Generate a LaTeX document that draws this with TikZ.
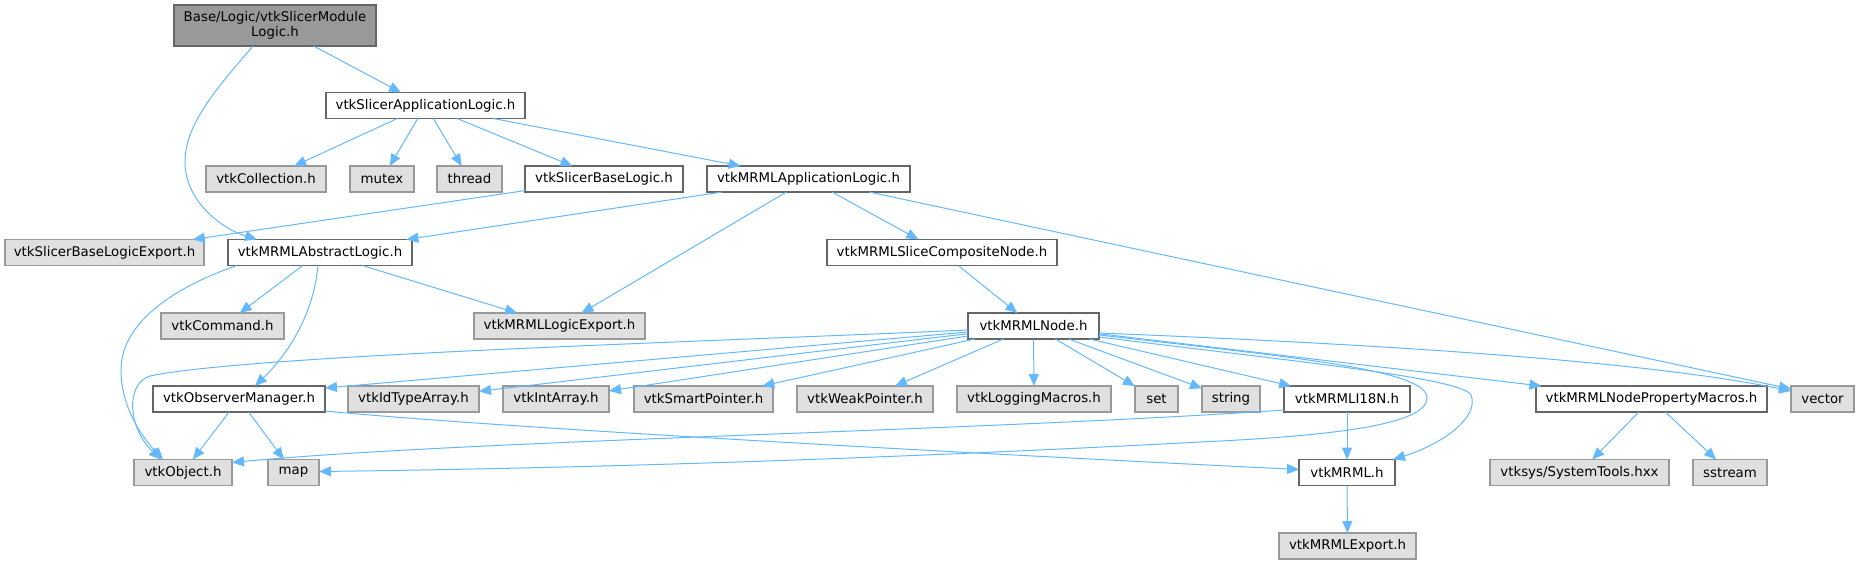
\documentclass[tikz,border=0pt]{standalone}
\usepackage{fontspec}
\setmainfont{DejaVu Sans}
\usetikzlibrary{arrows.meta,calc}
\definecolor{edgeblue}{HTML}{63B8FF}
\definecolor{wborder}{HTML}{666666}
\definecolor{gfill}{HTML}{E0E0E0}
\definecolor{gborder}{HTML}{999999}
\definecolor{rootfill}{HTML}{999999}
\begin{document}
\begin{tikzpicture}[x=0.75pt,y=-0.75pt,
  every node/.style={font=\fontsize{10pt}{11.25pt}\selectfont, inner sep=0pt, outer sep=0pt},
  wbox/.style={draw=wborder, fill=white, line width=0.9pt, rectangle},
  gbox/.style={draw=gborder, fill=gfill, line width=0.9pt, rectangle},
  rootbox/.style={draw=wborder, fill=rootfill, line width=0.9pt, rectangle, align=center},
  sz/.style 2 args={minimum width=#1*0.75pt, minimum height=#2*0.75pt},
  dep/.style={draw=edgeblue, line width=0.75pt, -{Triangle[length=9pt,width=7.5pt]}}
]
\useasboundingbox (0,0) rectangle (1859,564);

% nodes
\node[rootbox, sz={202}{41}] (root) at (275,25.5) {Base/Logic/vtkSlicerModule\\Logic.h};
\node[wbox, sz={199}{26}] (sal) at (425.5,105.5) {vtkSlicerApplicationLogic.h};
\node[gbox, sz={120}{26}] (coll) at (266,179) {vtkCollection.h};
\node[gbox, sz={64}{26}] (mutex) at (382,179) {mutex};
\node[gbox, sz={65}{26}] (thread) at (469.5,179) {thread};
\node[wbox, sz={158}{26}] (sbl) at (604,179) {vtkSlicerBaseLogic.h};
\node[wbox, sz={203}{26}] (mappl) at (808.5,179) {vtkMRMLApplicationLogic.h};
\node[gbox, sz={199}{26}] (sble) at (104.5,252.5) {vtkSlicerBaseLogicExport.h};
\node[wbox, sz={184}{26}] (absl) at (320,252.5) {vtkMRMLAbstractLogic.h};
\node[wbox, sz={230}{26}] (slicec) at (942,252.5) {vtkMRMLSliceCompositeNode.h};
\node[gbox, sz={123}{26}] (cmd) at (222.5,326) {vtkCommand.h};
\node[gbox, sz={171}{26}] (logexp) at (559.5,326) {vtkMRMLLogicExport.h};
\node[wbox, sz={131}{26}] (mnode) at (1033.5,326) {vtkMRMLNode.h};
\node[wbox, sz={172}{26}] (obs) at (239,399) {vtkObserverManager.h};
\node[gbox, sz={131}{26}] (idta) at (413.5,399) {vtkIdTypeArray.h};
\node[gbox, sz={106}{26}] (inta) at (556,399) {vtkIntArray.h};
\node[gbox, sz={139}{26}] (smart) at (703.5,399) {vtkSmartPointer.h};
\node[gbox, sz={136}{26}] (weak) at (865,399) {vtkWeakPointer.h};
\node[gbox, sz={154}{26}] (logm) at (1034,399) {vtkLoggingMacros.h};
\node[gbox, sz={43}{26}] (set) at (1156.5,399) {set};
\node[gbox, sz={58}{26}] (string) at (1231,399) {string};
\node[wbox, sz={126}{26}] (i18n) at (1347,399) {vtkMRMLI18N.h};
\node[wbox, sz={231}{26}] (npm) at (1651.5,399) {vtkMRMLNodePropertyMacros.h};
\node[gbox, sz={63}{26}] (vector) at (1822.5,399) {vector};
\node[gbox, sz={98}{26}] (obj) at (183,472.5) {vtkObject.h};
\node[gbox, sz={51}{26}] (map) at (293.5,472.5) {map};
\node[wbox, sz={96}{26}] (mrml) at (1347,472.5) {vtkMRML.h};
\node[gbox, sz={179}{26}] (sys) at (1579.5,472.5) {vtksys/SystemTools.hxx};
\node[gbox, sz={74}{26}] (sstream) at (1730,472.5) {sstream};
\node[gbox, sz={137}{26}] (mexp) at (1347.5,546) {vtkMRMLExport.h};

% edges
\draw[dep] (root) -- (sal);
\draw[dep] ($(root.south)+(-22,0)$) .. controls (215,90) and (185,125) .. (185,162)
   .. controls (185,200) and (220,228) .. ($(absl.north)+(-63,0)$);
\draw[dep] (sal) -- (coll);
\draw[dep] (sal) -- (mutex);
\draw[dep] (sal) -- (thread);
\draw[dep] (sal) -- (sbl);
\draw[dep] (sal) -- (mappl);
\draw[dep] (sbl) -- (sble);
\draw[dep] (mappl) -- (absl);
\draw[dep] (mappl) -- (logexp);
\draw[dep] (mappl) -- (slicec);
\draw[dep] ($(mappl.south east)+(-41,0)$) -- ($(vector.west)+(0,-10)$);
\draw[dep] (absl) -- (cmd);
\draw[dep] (absl) -- (logexp);
\draw[dep] ($(absl.south west)+(9,0)$) .. controls (180,285) and (121,320) .. (121,370)
   .. controls (121,410) and (145,440) .. ($(obj.north)+(-20,0)$);
\draw[dep] ($(absl.south)+(-2,0)$) .. controls (314,310) and (292,350) .. ($(obs.north)+(16,0)$);
\draw[dep] (slicec) -- (mnode);
\draw[dep] ($(mnode.west)+(0,4)$) .. controls (700,342) and (250,355) .. (150,376)
   .. controls (125,384) and (128,428) .. ($(obj.north)+(-22,0)$);
\draw[dep] ($(mnode.west)+(0,6)$) -- ($(obs.east)+(0,-11)$);
\draw[dep] (mnode) -- (idta);
\draw[dep] (mnode) -- (inta);
\draw[dep] (mnode) -- (smart);
\draw[dep] (mnode) -- (weak);
\draw[dep] (mnode) -- (logm);
\draw[dep] (mnode) -- (set);
\draw[dep] (mnode) -- (string);
\draw[dep] (mnode) -- (i18n);
\draw[dep] (mnode) -- (npm);
\draw[dep] ($(mnode.east)+(0,7)$) .. controls (1400,345) and (1650,362) .. ($(vector.west)+(0,-8)$);
\draw[dep] ($(mnode.east)+(0,9)$) .. controls (1300,358) and (1427,370) .. (1427,398)
   .. controls (1427,425) and (1330,436) .. (1200,442)
   .. controls (900,458) and (600,468) .. ($(map.east)+(0,-1)$);
\draw[dep] ($(mnode.east)+(0,11)$) .. controls (1300,362) and (1462,378) .. (1471,395)
   .. controls (1480,418) and (1440,445) .. ($(mrml.north east)+(-2,0)$);
\draw[dep] (obs) -- (obj);
\draw[dep] (obs) -- (map);
\draw[dep] ($(obs.south east)+(0,-1)$) .. controls (500,428) and (1000,455) .. ($(mrml.west)+(0,-3)$);
\draw[dep] ($(i18n.south west)+(0,-2)$) .. controls (980,431) and (470,440) .. ($(obj.east)+(0,-10)$);
\draw[dep] (i18n) -- (mrml);
\draw[dep] (npm) -- (sys);
\draw[dep] (npm) -- (sstream);
\draw[dep] (mrml) -- (mexp);
\end{tikzpicture}
\end{document}
